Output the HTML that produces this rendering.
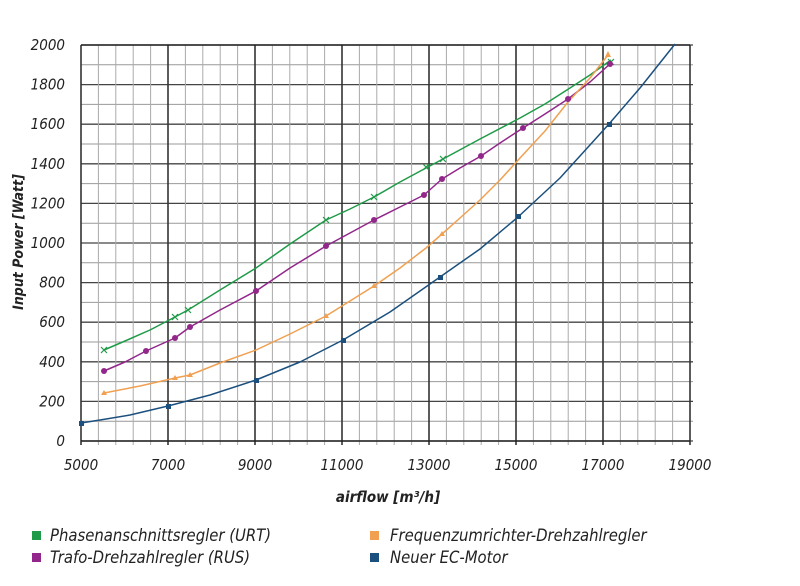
<!DOCTYPE html>
<html><head><meta charset="utf-8"><style>
body{margin:0;background:#fff;}
svg text{font-family:"DejaVu Sans Condensed","Liberation Sans",sans-serif;font-style:italic;fill:#222;}
</style></head><body>
<svg width="800" height="581" viewBox="0 0 800 581" xmlns="http://www.w3.org/2000/svg">
<g id="grid"></g>
<g fill="none" stroke-width="1.5" stroke-linejoin="round">
<polyline stroke="#1f9a48" points="104,350 125,341 150,330 175,317 188,310 220,290 256,268 290,244 326,220 350,209 374,197 400,182 426,168 443,159 480,139 520,118 545,104 570,88 590,75 611,60"/>
<polyline stroke="#92268a" points="104,371 125,362 146,351 175,338 190,327 220,310 256,291 290,268 326,246 350,233 374,220 400,207 424,195 442,179 460,168 481,156 500,143 523,128 545,114 568,99 590,82 611,63"/>
<polyline stroke="#f0a050" points="104,393 140,386 175,378 190,375 220,363 256,350 290,334 326,316 350,301 374,286 400,268 426,248 442,234 460,218 480,200 500,180 520,158 545,131 568,102 590,78 608,55"/>
<polyline stroke="#1b507e" points="81,423 100,420 130,415 168,406 210,395 256,380 300,362 343,340 390,312 440,277 480,249 518,217 560,178 609,124 640,88 675,44"/>
</g>
<g stroke="#1f9a48" stroke-width="1.2">
<path d="M101,347l6,6M107,347l-6,6M172,314l6,6M178,314l-6,6M185,307l6,6M191,307l-6,6M323,217l6,6M329,217l-6,6M371,194l6,6M377,194l-6,6M423,164l6,6M429,164l-6,6M440,156l6,6M446,156l-6,6M608,59l6,6M614,59l-6,6"/>
</g>
<g fill="#92268a">
<circle cx="104" cy="371" r="3"/><circle cx="146" cy="351" r="3"/><circle cx="175" cy="338" r="3"/><circle cx="190" cy="327" r="3"/><circle cx="256" cy="291" r="3"/><circle cx="326" cy="246" r="3"/><circle cx="374" cy="220" r="3"/><circle cx="424" cy="195" r="3"/><circle cx="442" cy="179" r="3"/><circle cx="481" cy="156" r="3"/><circle cx="523" cy="128" r="3"/><circle cx="568" cy="99" r="3"/><circle cx="610" cy="64" r="3"/>
</g>
<g fill="#f0a050">
<path d="M104,390l3,5h-6zM175,375l3,5h-6zM190,372l3,5h-6zM326,313l3,5h-6zM374,283l3,5h-6zM442,231l3,5h-6zM608,51l3,6h-6z"/>
</g>
<g fill="#1b507e">
<rect x="79" y="421" width="5" height="5"/><rect x="166" y="404" width="5" height="5"/><rect x="254" y="378" width="5" height="5"/><rect x="341" y="338" width="5" height="5"/><rect x="438" y="275" width="5" height="5"/><rect x="516" y="214" width="5" height="5"/><rect x="607" y="122" width="5" height="5"/>
</g>
<g id="labels" font-size="15"></g>
<text x="388" y="502" font-size="15" font-weight="bold" text-anchor="middle">airflow [m³/h]</text>
<text transform="translate(23,242) rotate(-90)" font-size="14" font-weight="bold" text-anchor="middle">Input Power [Watt]</text>
<rect x="32" y="531" width="9" height="9" fill="#1f9a48"/><text x="50" y="541" font-size="16.5">Phasenanschnittsregler (URT)</text>
<rect x="32" y="553" width="9" height="9" fill="#92268a"/><text x="50" y="563" font-size="16.5">Trafo-Drehzahlregler (RUS)</text>
<rect x="370" y="531" width="9" height="9" fill="#f0a050"/><text x="390" y="541" font-size="16.5">Frequenzumrichter-Drehzahlregler</text>
<rect x="370" y="553" width="9" height="9" fill="#1b507e"/><text x="390" y="563" font-size="16.5">Neuer EC-Motor</text>
</svg>
<script>
var ns="http://www.w3.org/2000/svg",g=document.getElementById("grid"),L=document.getElementById("labels");
function X(v){return 81+(v-5000)*0.0435;}function Y(p){return 441-p*0.198;}
function ln(x1,y1,x2,y2,c,w){var l=document.createElementNS(ns,"line");l.setAttribute("x1",x1);l.setAttribute("y1",y1);l.setAttribute("x2",x2);l.setAttribute("y2",y2);l.setAttribute("stroke",c);l.setAttribute("stroke-width",w);g.appendChild(l);}
function tx(x,y,s,a){var t=document.createElementNS(ns,"text");t.setAttribute("x",x);t.setAttribute("y",y);t.setAttribute("text-anchor",a);t.textContent=s;L.appendChild(t);}
for(var p=0;p<=2000;p+=100){var m=p%200==0;ln(X(5000),Y(p),X(19000)+3,Y(p),m?"#444":"#999",m?1.3:1);if(m)tx(65,Y(p)+5,p,"end");}
for(var v=5000;v<=19000;v+=400){var mj=(v-5000)%2000==0;ln(X(v),Y(2000),X(v),Y(0)+4,mj?"#333":((v/400)%2?"#aaa":"#555"),mj?1.6:1);}
for(var v=5000;v<=19000;v+=2000)tx(X(v),Y(0)+29,v,"middle");
ln(X(5000),Y(0),X(19000),Y(0),"#222",1.6);ln(X(5000),Y(2000),X(19000),Y(2000),"#222",1.4);
</script>
</body></html>
